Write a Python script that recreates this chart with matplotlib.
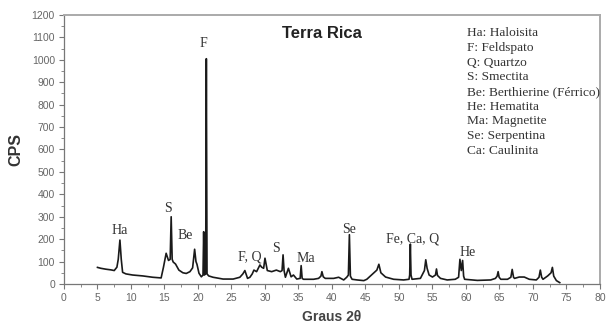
import matplotlib
matplotlib.use('Agg')
import matplotlib.pyplot as plt
from matplotlib.ticker import MultipleLocator

# difractograma Terra Rica
two_theta = [5.0, 5.5, 6.25, 7.0, 7.5, 7.9, 8.1, 8.35, 8.55, 8.75,
             9.25, 10.25, 11.75, 13.25, 14.5, 14.85, 15.25, 15.6, 15.85, 16.0,
             16.15, 16.3, 16.65, 17.15, 17.75, 18.25, 18.8, 19.2, 19.5, 19.7,
             19.85, 20.15, 20.5, 20.75, 20.85, 20.95, 21.15, 21.25, 21.35, 21.6,
             22.25, 23.75, 25.25, 26.25, 26.7, 27.0, 27.4, 27.75, 28.1, 28.35,
             28.75, 29.25, 29.5, 29.8, 30.0, 30.35, 31.0, 31.7, 32.3, 32.55,
             32.7, 32.85, 33.05, 33.5, 33.9, 34.25, 34.75, 35.25, 35.4, 35.55,
             35.75, 37.25, 38.0, 38.35, 38.5, 38.7, 39.0, 40.25, 41.0, 41.75,
             42.2, 42.45, 42.6, 42.75, 43.0, 43.75, 44.75, 45.2, 46.2, 46.7,
             47.0, 47.3, 48.0, 49.2, 50.7, 51.5, 51.6, 51.7, 51.8, 51.95,
             53.2, 53.8, 54.0, 54.2, 54.5, 55.0, 55.45, 55.6, 55.75, 56.2,
             57.2, 58.4, 58.9, 59.1, 59.3, 59.5, 59.65, 59.8, 61.7, 63.7,
             64.4, 64.65, 64.8, 64.95, 65.2, 66.2, 66.7, 66.9, 67.1, 67.25,
             67.95, 68.7, 69.45, 70.5, 70.9, 71.1, 71.3, 71.5, 72.2, 72.7,
             72.9, 73.1, 73.5, 74.0]
cps = [74, 70, 66, 63, 60, 75, 110, 196, 110, 52,
       45, 40, 36, 30, 27, 75, 137, 105, 110, 300,
       110, 98, 89, 62, 50, 47, 55, 72, 155, 100,
       88, 48, 32, 40, 233, 40, 45, 1005, 45, 36,
       30, 22, 22, 30, 45, 60, 25, 30, 45, 62,
       55, 85, 75, 70, 115, 60, 55, 62, 55, 60,
       130, 60, 30, 70, 32, 40, 22, 25, 82, 25,
       21, 21, 25, 35, 55, 32, 25, 25, 30, 18,
       30, 40, 220, 35, 21, 18, 15, 21, 48, 62,
       88, 50, 31, 21, 18, 21, 40, 178, 40, 21,
       25, 60, 108, 70, 40, 31, 40, 67, 38, 25,
       18, 21, 30, 110, 60, 105, 35, 21, 16, 18,
       25, 35, 55, 30, 21, 21, 30, 65, 30, 25,
       31, 31, 21, 18, 30, 62, 30, 21, 36, 50,
       74, 35, 15, 6]

peak_labels = ['Ha', 'S', 'Be', 'F', 'F, Q', 'S', 'Ma', 'Se', 'Fe, Ca, Q', 'He']
peak_x = [8.35, 15.5, 18.15, 20.85, 27.7, 31.7, 36.1, 42.5, 52.0, 60.2]
peak_y = [240, 338, 218, 1073, 122, 159, 115, 244, 199, 140]

legend_lines = ['Ha: Haloisita', 'F: Feldspato', 'Q: Quartzo', 'S: Smectita',
                'Be: Berthierine (Férrico)', 'He: Hematita', 'Ma: Magnetite',
                'Se: Serpentina', 'Ca: Caulinita']

sans = ['Liberation Sans', 'DejaVu Sans']
serif = ['Liberation Serif', 'DejaVu Serif']

fig = plt.figure(figsize=(6.07, 3.24), dpi=100)
ax = fig.add_axes([0.1054, 0.1235, 0.883, 0.8302])

ax.plot(two_theta, cps, color='#1a1a1a', lw=1.2)

for lab, px, py in zip(peak_labels, peak_x, peak_y):
    ax.text(px, py, lab, ha='center', va='center', fontsize=10,
            family=serif, color='#333333')

ax.text(38.5, 1118, 'Terra Rica', ha='center', va='center', fontsize=12,
        fontweight='bold', family=sans, color='#222222')

for i, line in enumerate(legend_lines):
    ax.text(60.2, 1118 - i * 65.5, line, ha='left', va='center',
            fontsize=9.6, family=serif, color='#333333')

ax.set_xlim(0, 80)
ax.set_ylim(0, 1200)
ax.xaxis.set_major_locator(MultipleLocator(5))
ax.xaxis.set_minor_locator(MultipleLocator(2.5))
ax.yaxis.set_major_locator(MultipleLocator(100))
ax.yaxis.set_minor_locator(MultipleLocator(50))
ax.tick_params(which='major', length=3.5, width=0.8, color='#777777',
               labelsize=7.5, labelcolor='#666666', pad=3)
ax.tick_params(which='minor', length=2, width=0.6, color='#777777')
for lbl in ax.get_xticklabels() + ax.get_yticklabels():
    lbl.set_family(sans)

for side in ['left', 'bottom']:
    ax.spines[side].set_color('#777777')
    ax.spines[side].set_linewidth(0.9)
for side in ['top', 'right']:
    ax.spines[side].set_color('#aaaaaa')
    ax.spines[side].set_linewidth(1.4)

ax.set_ylabel('CPS', fontsize=11.5, fontweight='bold', family=sans,
              color='#333333', labelpad=6)
ax.set_xlabel('Graus 2θ', fontsize=10, fontweight='bold', family=sans,
              color='#444444', labelpad=5)

fig.savefig('out.png', dpi=100)
